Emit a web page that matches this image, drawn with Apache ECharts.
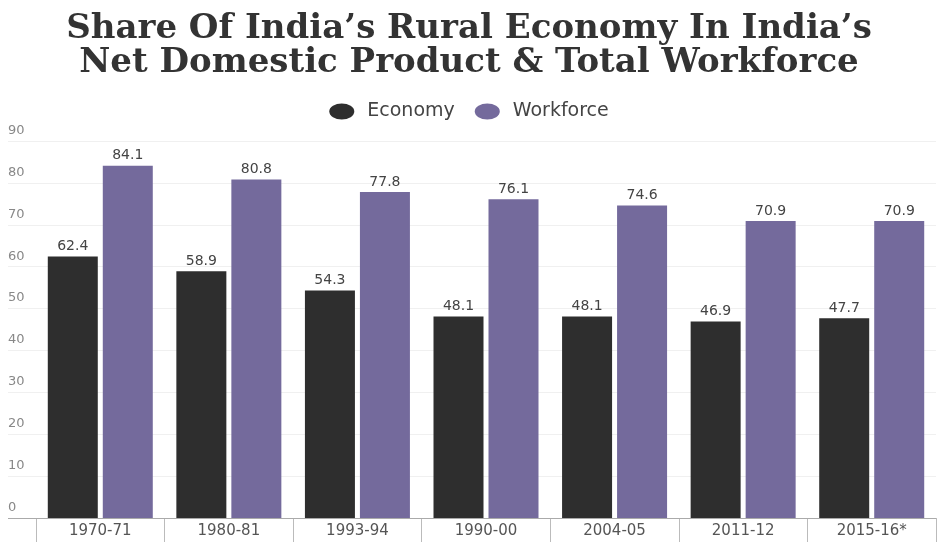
<!DOCTYPE html>
<html><head><meta charset="utf-8">
<script src="https://cdn.jsdelivr.net/npm/echarts@6/dist/echarts.min.js"></script>
<style>html,body{margin:0;padding:0;background:#fff}#c{width:938px;height:544px}</style>
</head><body><div id="c"></div>
<script>
const categories = ['1970-71','1980-81','1993-94','1990-00','2004-05','2011-12','2015-16*'];
const economy = [62.4, 58.9, 54.3, 48.1, 48.1, 46.9, 47.7];
const workforce = [84.1, 80.8, 77.8, 76.1, 74.6, 70.9, 70.9];
const yTicks = [0,10,20,30,40,50,60,70,80,90];

const chart = echarts.init(document.getElementById('c'));
const labelStyle = {show:true, position:'top', color:'#444', fontSize:14, fontFamily:'DejaVu Sans', distance:3};
const ellipse = 'path://M0,50 A50,50 0 1,0 100,50 A50,50 0 1,0 0,50 Z';
chart.setOption({
  animation:false,
  backgroundColor:'#fff',
  title:{
    text:"Share Of India’s Rural Economy In India’s\nNet Domestic Product & Total Workforce",
    left:'center', top:7,
    textStyle:{fontFamily:'DejaVu Serif', fontWeight:'bold', fontSize:34, lineHeight:34, color:'#333'}
  },
  legend:{
    top:97, left:'center', itemWidth:25, itemHeight:16, itemGap:20, symbolKeepAspect:false,
    textStyle:{fontFamily:'DejaVu Sans', fontSize:19, color:'#444', padding:[0,0,0,8]},
    data:[{name:'Economy', icon:ellipse},{name:'Workforce', icon:ellipse}]
  },
  grid:[
    {left:8, right:2, top:141, bottom:26},
    {left:36, right:2, top:141, bottom:26}
  ],
  xAxis:[
    {gridIndex:0, type:'value', show:false},
    {gridIndex:1, type:'category', data:categories,
     axisLine:{show:false},
     axisTick:{show:true, length:24, lineStyle:{color:'#bbb'}},
     axisLabel:{color:'#555', fontSize:15, fontFamily:'DejaVu Sans', margin:6}}
  ],
  yAxis:[
    {gridIndex:0, type:'value', min:0, max:90, interval:10,
     axisLine:{show:false}, axisTick:{show:false},
     splitLine:{show:true, lineStyle:{color:'#f0f0f0'}},
     axisLabel:{inside:true, verticalAlign:'bottom', color:'#888', fontSize:13, fontFamily:'DejaVu Sans', margin:0, padding:[0,0,4,0],
       formatter:v=>yTicks.includes(v)?String(v):''}},
    {gridIndex:1, type:'value', min:0, max:90, interval:10,
     axisLine:{show:false}, axisTick:{show:false}, splitLine:{show:false}, axisLabel:{show:false}}
  ],
  series:[
    {name:'Economy', type:'bar', xAxisIndex:1, yAxisIndex:1, data:economy, barWidth:50, barGap:'10%',
     itemStyle:{color:'#2e2e2e'}, label:labelStyle},
    {name:'Workforce', type:'bar', xAxisIndex:1, yAxisIndex:1, data:workforce, barWidth:50, barGap:'10%',
     itemStyle:{color:'#746a9c'}, label:labelStyle},
    {type:'line', xAxisIndex:0, yAxisIndex:0, data:[], silent:true,
     markLine:{symbol:'none', silent:true, label:{show:false}, lineStyle:{color:'#aaa', type:'solid', width:1},
       data:[{yAxis:0}]}}
  ]
});
</script></body></html>
